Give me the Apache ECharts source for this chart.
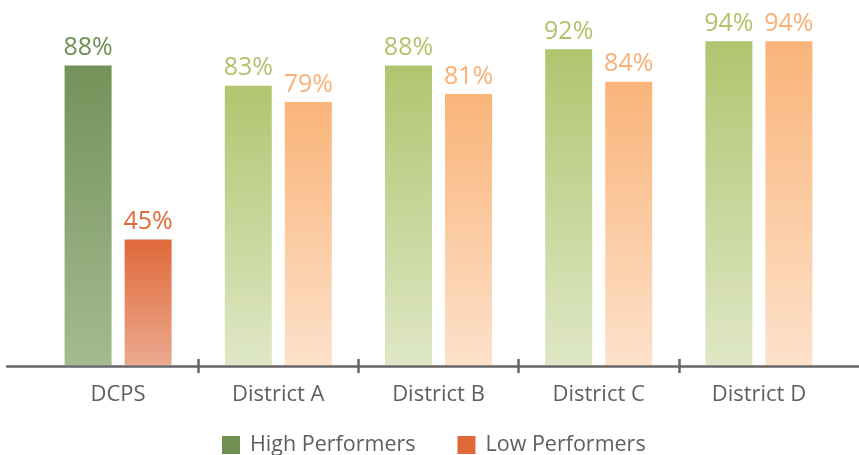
<!DOCTYPE html>
<html>
<head>
<meta charset="utf-8">
<script src="https://cdn.jsdelivr.net/npm/echarts@6/dist/echarts.min.js"></script>
<style>
html, body { margin: 0; padding: 0; background: #fff; }
#chart { width: 859px; height: 455px; }
</style>
</head>
<body>
<div id="chart"></div>
<script>
// data
var categories = ['DCPS', 'District A', 'District B', 'District C', 'District D'];
var highValues = [88, 83, 88, 92, 94];
var lowValues = [45, 79, 81, 84, 94];
var seriesNames = ['High Performers', 'Low Performers'];

var FONT = "'Open Sans', sans-serif";
var GREY = '#5f5f5f';

// first category (DCPS) is drawn in darker colours
var palette = {
    high: { dcps: ['#73935a', '#a4ba8f'], other: ['#b2c46f', '#dfe7c6'], label: ['#6f8f53', '#b0c36c'], legend: '#6f8f53' },
    low:  { dcps: ['#e0693a', '#eba98e'], other: ['#f9b479', '#fde1ca'], label: ['#e0693a', '#f9b077'], legend: '#e0693a' }
};

function grad(c) {
    return new echarts.graphic.LinearGradient(0, 0, 0, 1, [
        { offset: 0, color: c[0] },
        { offset: 1, color: c[1] }
    ]);
}

function buildData(values, pal) {
    return values.map(function (v, i) {
        var first = (i == 0);
        return {
            value: v,
            itemStyle: { color: grad(first ? pal.dcps : pal.other) },
            label: { color: first ? pal.label[0] : pal.label[1] }
        };
    });
}

function makeSeries(name, values, pal) {
    return {
        name: name,
        type: 'bar',
        xAxisIndex: 0,
        yAxisIndex: 0,
        barWidth: 47,
        barGap: '27.7%',
        itemStyle: { color: pal.legend },
        label: {
            show: true,
            position: 'top',
            distance: 5,
            fontFamily: FONT,
            fontSize: 25,
            formatter: '{c}%'
        },
        data: buildData(values, pal)
    };
}

var tickSlots = ['', '', '', '', '', ''];

var option = {
    animation: false,
    textStyle: { fontFamily: FONT },
    grid: [
        { left: 38, right: 20, top: 17, bottom: 90 },
        { left: 7, right: 0, top: 17, bottom: 88.7 }
    ],
    legend: {
        data: seriesNames,
        icon: 'rect',
        itemWidth: 18,
        itemHeight: 18,
        itemGap: 42,
        left: 217,
        top: 429,
        textStyle: { fontFamily: FONT, fontSize: 21.5, color: GREY, padding: [0, 0, 0, 5] }
    },
    xAxis: [
        {
            type: 'category',
            gridIndex: 0,
            position: 'bottom',
            data: categories,
            boundaryGap: true,
            axisLine: { show: false },
            axisTick: { show: false },
            axisLabel: { fontFamily: FONT, fontSize: 22, color: GREY, margin: 19 }
        },
        {
            // tick marks between categories
            type: 'category',
            gridIndex: 0,
            position: 'bottom',
            data: tickSlots,
            boundaryGap: false,
            offset: -6,
            axisLine: { show: false },
            axisLabel: { show: false },
            axisTick: {
                show: true,
                length: 14,
                interval: function (i) { return i > 0 && i < tickSlots.length - 1; },
                lineStyle: { color: '#666', width: 2.5 }
            }
        },
        {
            // long base line
            type: 'category',
            gridIndex: 1,
            position: 'bottom',
            data: [''],
            axisLine: { show: true, lineStyle: { color: '#666', width: 2.5 } },
            axisTick: { show: false },
            axisLabel: { show: false }
        }
    ],
    yAxis: [
        { type: 'value', gridIndex: 0, min: 14, max: 100, show: false },
        { type: 'value', gridIndex: 1, show: false }
    ],
    series: [
        makeSeries(seriesNames[0], highValues, palette.high),
        makeSeries(seriesNames[1], lowValues, palette.low)
    ]
};

var chart = echarts.init(document.getElementById('chart'), null, { renderer: 'canvas' });
chart.setOption(option);
</script>
</body>
</html>
